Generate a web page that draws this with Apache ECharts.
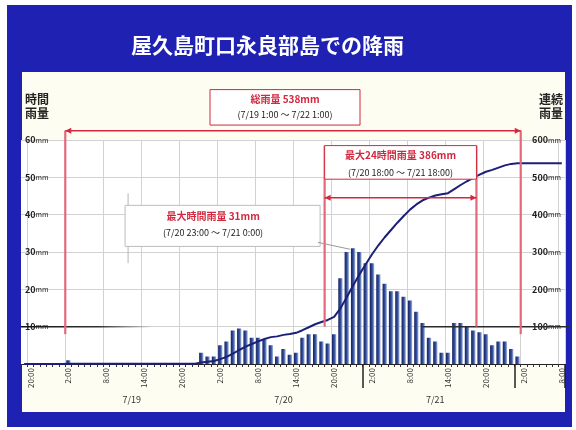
<!DOCTYPE html>
<html><head><meta charset="utf-8">
<script src="https://cdn.jsdelivr.net/npm/echarts@6/dist/echarts.min.js"></script>
<style>
html,body{margin:0;padding:0;background:#fff;width:576px;height:430px;overflow:hidden;}
#frame{position:absolute;left:7px;top:5px;width:565px;height:422px;background:#1f21b2;}
#panel{position:absolute;left:22px;top:72px;width:543px;height:340px;background:#fdfdf2;}
#chart{position:absolute;left:0;top:0;width:576px;height:430px;}
</style></head><body>
<div id="frame"></div><div id="panel"></div><div id="chart"></div>
<script>
// ---- data ----
const titleText = '屋久島町口永良部島での降雨';
const leftAxisTitle = '時間\n雨量';
const rightAxisTitle = '連続\n雨量';
const categories = [
"19:00","20:00","21:00","22:00","23:00",
"0:00","1:00","2:00","3:00","4:00","5:00","6:00","7:00","8:00","9:00","10:00","11:00","12:00","13:00","14:00","15:00","16:00","17:00","18:00","19:00","20:00","21:00","22:00","23:00",
"0:00","1:00","2:00","3:00","4:00","5:00","6:00","7:00","8:00","9:00","10:00","11:00","12:00","13:00","14:00","15:00","16:00","17:00","18:00","19:00","20:00","21:00","22:00","23:00",
"0:00","1:00","2:00","3:00","4:00","5:00","6:00","7:00","8:00","9:00","10:00","11:00","12:00","13:00","14:00","15:00","16:00","17:00","18:00","19:00","20:00","21:00","22:00","23:00",
"0:00","1:00","2:00","3:00","4:00","5:00","6:00","7:00","8:00"];
const hourlyRain = [
0,0,0,0,0,0,0,
1,
0,0,0,0,0,0,0,0,0,0,0,0,0,0,0,0,0,0,0,0,
3,2,2,5,6,9,9.5,9,7,7,6.5,5,2,4,2.5,3,7,8,8,6,5.5,8,23,30,31,30,27,27,24,21.5,19.5,19.5,18,17,14,11,7,6,3,3,11,11,10,9,8.5,8,5,6,6,4,2,
0,0,0,0,0,0,0];
const cumulativeRain = [
0,0,0,0,0,0,0,
1,1,1,1,1,1,1,1,1,1,1,1,1,1,1,1,1,1,1,1,1,
4,6,8,13,19,28,37.5,46.5,53.5,60.5,67,72,74,78,80.5,83.5,90.5,98.5,106.5,112.5,118,126,149,179,210,240,267,294,318,339.5,359,378.5,396.5,413.5,427.5,438.5,445.5,451.5,454.5,457.5,468.5,479.5,489.5,498.5,507,515,520,526,532,536,538,
538,538,538,538,538,538,538];
const dayLabels = ['7/19','7/20','7/21'];
const dayLabelIndex = [17,41,65];
const daySeparatorIndex = [54,78];
const totalNote = {from:7, to:78, line1:'総雨量 538mm', line2:'(7/19 1:00 ～ 7/22 1:00)'};
const max24Note = {from:48, to:71, line1:'最大24時間雨量 386mm', line2:'(7/20 18:00 ～ 7/21 18:00)'};
const maxHourNote = {index:52, line1:'最大時間雨量 31mm', line2:'(7/20 23:00 ～ 7/21 0:00)'};

// ---- chart ----
const FONT = '"Noto Sans CJK JP","Noto Sans",sans-serif';
const chart = echarts.init(document.getElementById('chart'));
const barGrad = new echarts.graphic.LinearGradient(0,0,1,0,[
  {offset:0,color:'#16215c'},{offset:0.55,color:'#33509f'},{offset:1,color:'#a8b9df'}]);
const yLabel = {
  inside:true, margin:4, showMinLabel:false,
  formatter: v => '{n|' + v + '}{u|mm}',
  rich:{n:{fontSize:9,fontWeight:'bold',color:'#222',fontFamily:FONT},u:{fontSize:7,color:'#222',fontFamily:FONT}}
};
chart.setOption({
  animation:false,
  title:{text:titleText,left:126,top:30,textStyle:{color:'#fff',fontSize:21,fontWeight:'bold',fontFamily:FONT}},
  grid:{left:21,right:11,top:140,bottom:66,show:true,backgroundColor:'#fff',borderWidth:0},
  xAxis:[{
    type:'category', data:categories, boundaryGap:true,
    axisLine:{lineStyle:{color:'#222',width:1}},
    axisTick:{show:true,interval:0,length:3,lineStyle:{color:'#333'}},
    axisLabel:{interval:i => i % 6 === 1, rotate:90, fontSize:8, color:'#333', margin:4, fontFamily:FONT},
    splitLine:{show:true, interval:i => i % 6 === 1, lineStyle:{color:'#d2d2d2'}}
  },{
    type:'category', data:categories, boundaryGap:true, position:'bottom', offset:13,
    axisLine:{show:false},
    axisTick:{show:true, interval:i => daySeparatorIndex.includes(i), length:24, lineStyle:{color:'#222',width:1.5}},
    axisLabel:{interval:i => dayLabelIndex.includes(i), margin:18, fontSize:9, color:'#333', fontFamily:FONT,
      formatter:(v,i) => dayLabels[dayLabelIndex.indexOf(i)] || ''},
    splitLine:{show:false}
  }],
  yAxis:[{
    type:'value', min:0, max:60, interval:10, position:'left',
    axisLine:{show:false}, axisTick:{show:false}, axisLabel:yLabel,
    splitLine:{lineStyle:{color:'#d2d2d2'}}
  },{
    type:'value', min:0, max:600, interval:100, position:'right',
    axisLine:{show:false}, axisTick:{show:false}, axisLabel:yLabel,
    splitLine:{show:false}
  }],
  series:[{
    type:'bar', data:hourlyRain, xAxisIndex:0, yAxisIndex:0, barWidth:'68%',
    itemStyle:{color:barGrad}
  },{
    type:'line', data:cumulativeRain, xAxisIndex:0, yAxisIndex:1, symbol:'none', z:5,
    lineStyle:{color:'#1c1f78',width:2}
  }]
});

// ---- annotations (positions from data via the axes) ----
const px = k => chart.convertToPixel({xAxisIndex:0}, k);
const py = v => chart.convertToPixel({yAxisIndex:0}, v);
const cw = px(1) - px(0);
const bL = k => px(k) - cw/2, bR = k => px(k) + cw/2;
const RED = '#d2293f', PINK = '#e2687a';
const g = [];
const line = (x1,y1,x2,y2,stroke,w,z) => g.push({type:'line',z:z||10,silent:true,shape:{x1,y1,x2,y2},style:{stroke,lineWidth:w}});
const arrow = (x,y,dir) => g.push({type:'polygon',z:11,silent:true,shape:{points:[[x,y],[x-dir*6,y-3],[x-dir*6,y+3]]},style:{fill:RED}});
const text = (x,y,t,fill,size,bold) => g.push({type:'text',z:12,silent:true,x,y,style:{text:t,fill,fontSize:size,fontWeight:bold?'bold':'normal',fontFamily:FONT,align:'center',verticalAlign:'middle'}});
const box = (x,y,w,h,stroke) => g.push({type:'rect',z:10,silent:true,shape:{x,y,width:w,height:h},style:{fill:'#fff',stroke,lineWidth:1}});

// axis titles
g.push({type:'text',left:25,top:92,z:12,style:{text:leftAxisTitle,fill:'#222',fontSize:12,fontWeight:'bold',lineHeight:14,fontFamily:FONT}});
g.push({type:'text',left:539,top:92,z:12,style:{text:rightAxisTitle,fill:'#222',fontSize:12,fontWeight:'bold',lineHeight:14,fontFamily:FONT}});

// 10mm reference lines
g.push({type:'line',z:4,silent:true,shape:{x1:bL(0),y1:py(10),x2:px(20),y2:py(10)},
  style:{lineWidth:1.5,stroke:new echarts.graphic.LinearGradient(0,0,1,0,[{offset:0,color:'#111'},{offset:0.6,color:'#333'},{offset:1,color:'rgba(60,60,60,0)'}])}});
line(px(63),py(10),bR(85)+4,py(10),'#2a2a2a',1.5,4);

// total bracket
{
  const xl = bL(totalNote.from), xr = bR(totalNote.to), yt = py(62.5), yb = py(8);
  line(xl,yt,xl,yb,PINK,2.2); line(xr,yt,xr,yb,PINK,2.2);
  line(xl,yt,xr,yt,RED,1.5); arrow(xl,yt,-1); arrow(xr,yt,1);
  const cx = (xl+xr)/2 - 8, top = py(73.5), bot = py(64);
  box(cx-75, top, 150, bot-top, RED);
  text(cx, top+10, totalNote.line1, RED, 10, true);
  text(cx, top+25, totalNote.line2, '#222', 9, false);
}
// 24h bracket
{
  const xl = bL(max24Note.from), xr = bR(max24Note.to), yt = py(58.5), yb = py(10);
  line(xl,yt,xl,yb,PINK,2.2); line(xr,yt,xr,yb,PINK,2.2);
  const bot = py(49.5);
  box(xl, yt, xr-xl, bot-yt, RED);
  text((xl+xr)/2, yt+10, max24Note.line1, RED, 10, true);
  text((xl+xr)/2, yt+27, max24Note.line2, '#222', 9, false);
  const ya = py(44.5);
  line(xl,ya,xr,ya,RED,1.5); arrow(xl,ya,-1); arrow(xr,ya,1);
}
// max hour box
{
  const bx = px(maxHourNote.index);
  const r = bx - 33, l = r - 195, t = py(42.5), b = py(31.5);
  line(l+3, t-12, l+3, py(27), '#b5b5b5', 1, 9);
  box(l, t, r-l, b-t, '#bcbcbc');
  line(r-2, b-4, bx-3, py(31)+1, '#999', 1, 11);
  text(l+88, py(39.5), maxHourNote.line1, RED, 10, true);
  text(l+88, py(35.2), maxHourNote.line2, '#222', 9, false);
}
chart.setOption({graphic:{elements:g}});
</script>
</body></html>
